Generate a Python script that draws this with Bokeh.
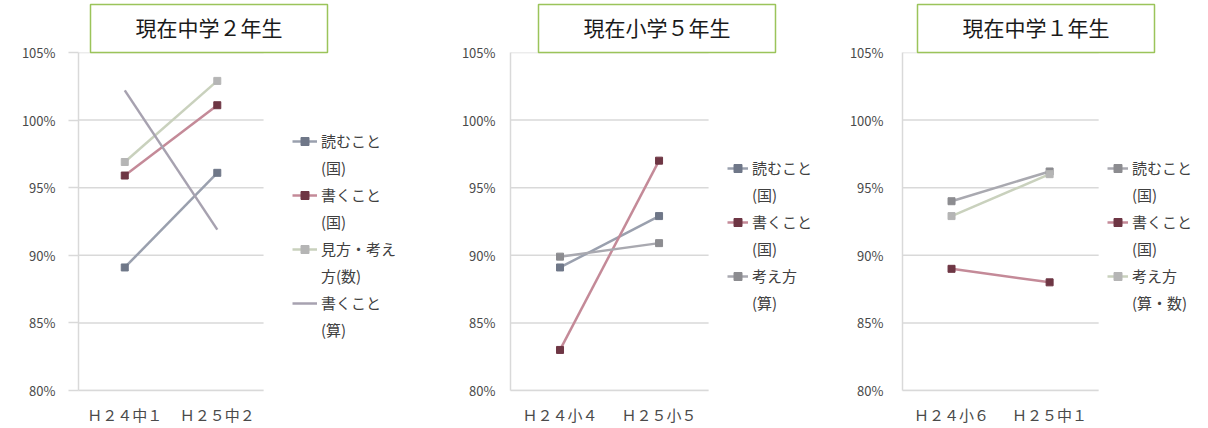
from bokeh.plotting import figure
from bokeh.models import (ColumnDataSource, Legend, LegendItem, Title, Range1d,
                          FixedTicker, PrintfTickFormatter)
from bokeh.layouts import row
from bokeh.embed import file_html
from bokeh.resources import INLINE

# ---- data -------------------------------------------------------------
y_ticks = [80, 85, 90, 95, 100, 105]

# 現在中学２年生
g2_title = "現在中学２年生"
g2_years = ["Ｈ２４中１", "Ｈ２５中２"]
g2_yomu_koku = [89.1, 96.1]      # 読むこと(国)
g2_kaku_koku = [95.9, 101.1]     # 書くこと(国)
g2_mikata_su = [96.9, 102.9]     # 見方・考え方(数)
g2_kaku_san = [102.2, 91.9]      # 書くこと(算)

# 現在小学５年生
s5_title = "現在小学５年生"
s5_years = ["Ｈ２４小４", "Ｈ２５小５"]
s5_yomu_koku = [89.1, 92.9]      # 読むこと(国)
s5_kaku_koku = [83.0, 97.0]      # 書くこと(国)
s5_kangae_san = [89.9, 90.9]     # 考え方(算)

# 現在中学１年生
g1_title = "現在中学１年生"
g1_years = ["Ｈ２４小６", "Ｈ２５中１"]
g1_yomu_koku = [94.0, 96.2]      # 読むこと(国)
g1_kaku_koku = [89.0, 88.0]      # 書くこと(国)
g1_kangae = [92.9, 96.0]         # 考え方(算・数)

FONT = "Noto Sans CJK JP"
GRID = "#d9d9d9"

# series styles: line colour, marker colour (None = no marker)
BLUE = ("#9aa0ae", "#6f7788")
RED = ("#c48a98", "#6e3644")
GREEN = ("#c9d1bd", "#b5b5b5")
GRAY = ("#a9a9b0", "#8c8c90")
PURPLE = ("#a7a2b0", None)


def panel(title, years, series, width, left, x_end, tick_out, standoff,
          glyph_w, legend_loc, title_offset):
    # category i sits at x = i; the chart spans -0.5 .. 1.5 and the space
    # to the right of it (up to x_end) holds the legend
    xs = list(range(len(years)))
    span = (-0.5, len(years) - 0.5)

    p = figure(width=width, height=428, x_range=Range1d(span[0], x_end),
               y_range=Range1d(80, 105), output_backend="svg",
               toolbar_location=None, min_border_left=left,
               min_border_right=0, min_border_top=52, min_border_bottom=38)
    p.outline_line_color = None
    p.background_fill_color = "white"
    p.border_fill_color = "white"
    p.grid.grid_line_color = None

    # horizontal gridlines limited to the chart span
    p.segment(x0=span[0], x1=span[1], y0=y_ticks, y1=y_ticks,
              line_color=GRID, line_width=1.5)

    p.yaxis.ticker = FixedTicker(ticks=y_ticks)
    p.yaxis.formatter = PrintfTickFormatter(format="%d%%")
    p.xaxis.ticker = FixedTicker(ticks=xs)
    p.xaxis.major_label_overrides = {i: y for i, y in zip(xs, years)}
    p.xaxis.bounds = span

    for ax in (p.xaxis[0], p.yaxis[0]):
        ax.axis_line_color = GRID
        ax.axis_line_width = 1.5
        ax.major_tick_line_color = GRID
        ax.major_tick_line_width = 1.5
        ax.minor_tick_line_color = None
        ax.major_tick_in = 0
        ax.major_label_text_font = FONT
        ax.major_label_text_color = "#4a4a4a"
    p.yaxis.major_tick_out = tick_out
    p.yaxis.major_label_standoff = standoff
    p.yaxis.major_label_text_font_size = "13px"
    p.xaxis.major_tick_out = 0
    p.xaxis.major_label_standoff = 13
    p.xaxis.major_label_text_font_size = "15px"

    items = []
    for label, values, (lc, mc) in series:
        src = ColumnDataSource(dict(x=xs, y=values))
        rs = [p.line("x", "y", source=src, line_color=lc, line_width=2.5)]
        if mc is not None:
            rs.append(p.scatter("x", "y", source=src, marker="square", size=7,
                                fill_color=mc, line_color=mc))
        first, second = label
        items.append(LegendItem(label=first, renderers=rs))
        items.append(LegendItem(label=second, renderers=[]))

    legend = Legend(items=items, location=legend_loc,
                    border_line_color=None, background_fill_alpha=0,
                    padding=0, margin=0, spacing=0, glyph_width=glyph_w,
                    glyph_height=20, label_height=27, label_standoff=4,
                    label_text_font=FONT, label_text_font_size="15px",
                    label_text_color="#404040")
    p.add_layout(legend)

    p.add_layout(Title(text=title, align="left", offset=title_offset,
                       vertical_align="bottom", standoff=0,
                       text_font=FONT, text_font_size="21px",
                       text_font_style="normal", text_color="#1a1a1a",
                       background_fill_color="white",
                       border_line_color="#9bc45a", border_line_width=1.5,
                       padding=dict(left=45, right=45, top=7, bottom=11)),
                 "above")
    return p


p1 = panel(g2_title, g2_years, [
    (("読むこと", "(国)"), g2_yomu_koku, BLUE),
    (("書くこと", "(国)"), g2_kaku_koku, RED),
    (("見方・考え", "方(数)"), g2_mikata_su, GREEN),
    (("書くこと", "(算)"), g2_kaku_san, PURPLE),
], width=400, left=78, x_end=2.98, tick_out=10, standoff=13,
    glyph_w=25, legend_loc=(214, 47), title_offset=12)

p2 = panel(s5_title, s5_years, [
    (("読むこと", "(国)"), s5_yomu_koku, BLUE),
    (("書くこと", "(国)"), s5_kaku_koku, RED),
    (("考え方", "(算)"), s5_kangae_san, GRAY),
], width=420, left=110, x_end=2.63, tick_out=0, standoff=15,
    glyph_w=21, legend_loc=(217, 74), title_offset=28)

p3 = panel(g1_title, g1_years, [
    (("読むこと", "(国)"), g1_yomu_koku, GRAY),
    (("書くこと", "(国)"), g1_kaku_koku, RED),
    (("考え方", "(算・数)"), g1_kangae, GREEN),
], width=388, left=82, x_end=2.62, tick_out=0, standoff=19,
    glyph_w=21, legend_loc=(205, 74), title_offset=15)

layout = row(p1, p2, p3)
open("out.html", "w").write(file_html(layout, INLINE))
